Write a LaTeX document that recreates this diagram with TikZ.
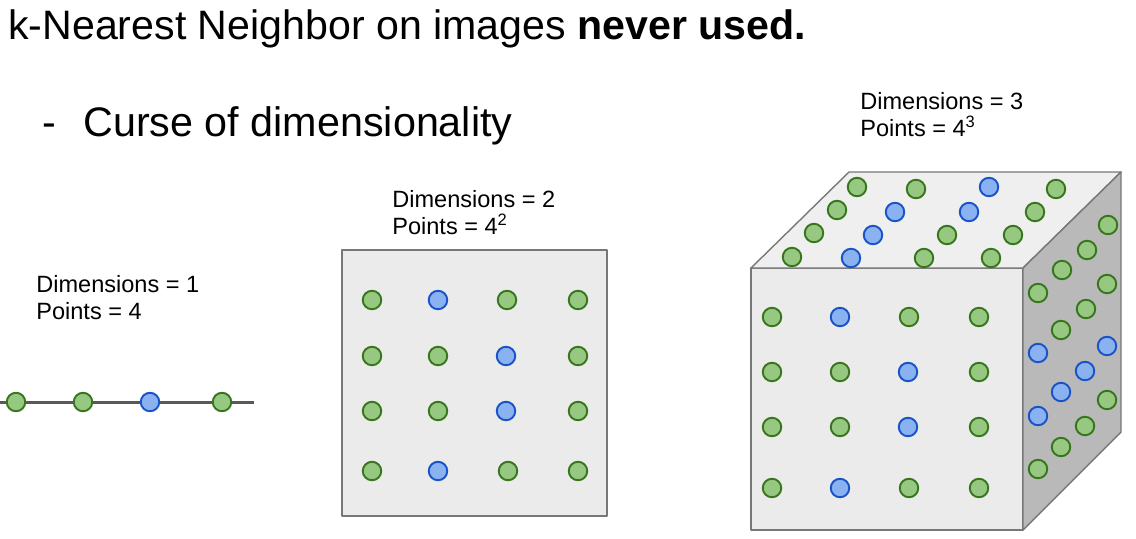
\documentclass[tikz,border=0pt]{standalone}
\usepackage{fontspec}
\setmainfont{Liberation Sans}
\usepackage{xcolor}
\usepackage{tikz}

\definecolor{dotgreen}{HTML}{97C882}
\definecolor{edgegreen}{HTML}{38761D}
\definecolor{dotblue}{HTML}{8AB2F0}
\definecolor{edgeblue}{HTML}{1A52C8}
\definecolor{facegray}{HTML}{EBEBEB}
\definecolor{topgray}{HTML}{EFEFEF}
\definecolor{sidegray}{HTML}{B9B9B9}
\definecolor{rimgray}{HTML}{777777}

\begin{document}
\begin{tikzpicture}[x=0.02cm,y=-0.02cm,line join=round]
    \tikzstyle{gdot}=[circle, draw=edgegreen, fill=dotgreen, line width=1.1pt, minimum size=0.37cm, inner sep=0pt]
    \tikzstyle{bdot}=[circle, draw=edgeblue, fill=dotblue, line width=1.1pt, minimum size=0.37cm, inner sep=0pt]
    \tikzstyle{face}=[draw=rimgray, line width=0.8pt]
    \tikzstyle{big}=[anchor=base west, inner sep=0pt, font=\fontsize{23.4}{28}\selectfont]
    \tikzstyle{lbl}=[anchor=base west, inner sep=0pt, font=\fontsize{13.4}{16}\selectfont]
    \useasboundingbox (0,0) rectangle (1136,538);

    % headings
    \node[big] (title) at (8, 39) {k-Nearest Neighbor on images \textbf{never used.}};
    \node[big, font=\fontsize{23.5}{28}\selectfont] (curse) at (42, 136) {-\hspace{0.66em}Curse of dimensionality};

    % labels
    \node[lbl] (dim1) at (36, 292) {Dimensions = 1};
    \node[lbl] (pts1) at (36, 319.5) {Points = 4};
    \node[lbl] (dim2) at (392, 207) {Dimensions = 2};
    \node[lbl] (pts2) at (392, 234.5) {Points = 4\textsuperscript{2}};
    \node[lbl] (dim3) at (860, 109) {Dimensions = 3};
    \node[lbl] (pts3) at (860, 136.5) {Points = 4\textsuperscript{3}};

    % one dimension
    \coordinate (l0) at (0, 402);
    \coordinate (l1) at (254, 402);
    \draw[line width=1.7pt, color=black!65] (l0) -- (l1);
    \foreach \x/\s [count=\n] in {16/gdot, 83/gdot, 150/bdot, 222/gdot}
        \node[\s] (line\n) at (\x, 402) {};

    % two dimensions
    \draw[face, fill=facegray] (342, 250) rectangle (607, 516);
    \foreach \x/\y/\s [count=\n] in {
        372/300/gdot, 438/300/bdot, 507/300/gdot, 578/300/gdot,
        372/356/gdot, 438/356/gdot, 506/356/bdot, 578/356/gdot,
        372/411/gdot, 438/411/gdot, 506/411/bdot, 578/411/gdot,
        372/471/gdot, 438/471/bdot, 508/471/gdot, 578/471/gdot}
        \node[\s] (sq\n) at (\x, \y) {};

    % three dimensions
    \draw[face, fill=facegray] (751, 268) rectangle (1023, 530);
    \draw[face, fill=topgray] (751, 268) -- (849, 172) -- (1121, 172) -- (1023, 268) -- cycle;
    \draw[face, fill=sidegray] (1023, 268) -- (1121, 172) -- (1121, 432) -- (1023, 530) -- cycle;
    \foreach \x/\y/\s [count=\n] in {
        772/317/gdot, 840/317/bdot, 909/317/gdot, 979/317/gdot,
        772/372/gdot, 840/372/gdot, 908/372/bdot, 979/372/gdot,
        772/427/gdot, 840/427/gdot, 908/427/bdot, 979/427/gdot,
        772/488/gdot, 840/488/bdot, 909/488/gdot, 979/488/gdot}
        \node[\s] (front\n) at (\x, \y) {};
    \foreach \x/\y/\s [count=\n] in {
        857/187/gdot, 916/189/gdot, 989/187/bdot, 1056/189/gdot,
        837/210/gdot, 895/212/bdot, 969/212/bdot, 1035/212/gdot,
        814/233/gdot, 873/235/bdot, 947/235/gdot, 1013/235/gdot,
        792/257/gdot, 851/258/bdot, 924/258/gdot, 991/258/gdot}
        \node[\s] (top\n) at (\x, \y) {};
    \foreach \x/\y/\s [count=\n] in {
        1038/293/gdot, 1062/270/gdot, 1087/250/gdot, 1108/225/gdot,
        1038/353/bdot, 1061/330/gdot, 1086/309/gdot, 1107/284/gdot,
        1038/416/bdot, 1061/392/bdot, 1085/371/bdot, 1107/346/bdot,
        1038/469/gdot, 1061/447/gdot, 1085/426/gdot, 1107/400/gdot}
        \node[\s] (side\n) at (\x, \y) {};
\end{tikzpicture}
\end{document}
